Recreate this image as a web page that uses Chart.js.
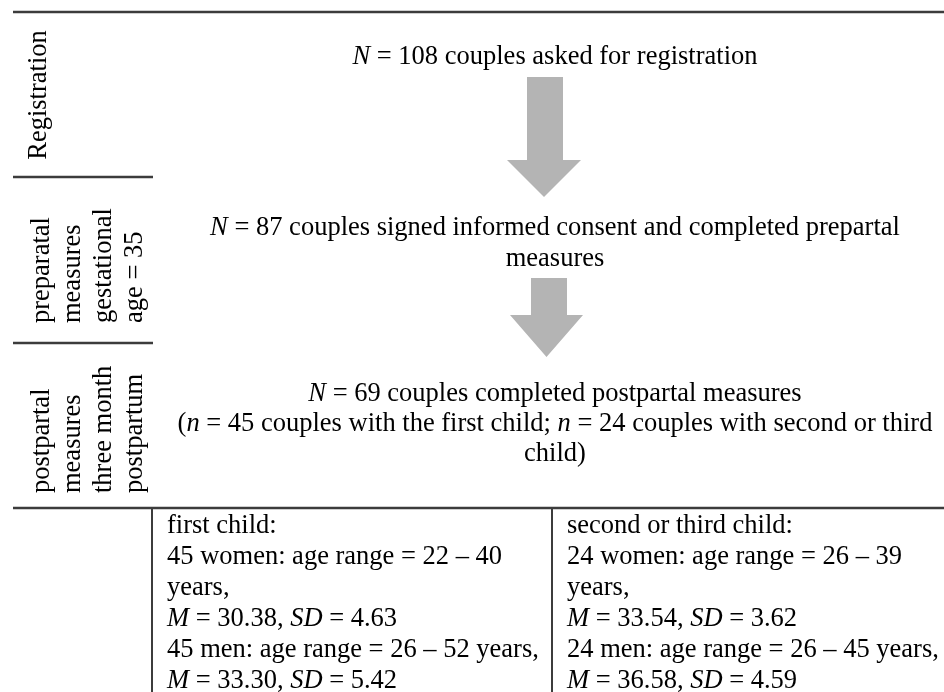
<!DOCTYPE html>
<html>
<head>
<meta charset="utf-8">
<script src="https://cdn.jsdelivr.net/npm/chart.js@4.4.1/dist/chart.umd.min.js"></script>
<style>
  html, body { margin: 0; padding: 0; background: #fff; }
  canvas { display: block; }
</style>
</head>
<body>
<canvas id="flowChart" width="944" height="692"></canvas>
<script>
// Study flow data
const stageNames = [
    ['Registration'],
    ['preparatal', 'measures', 'gestational', 'age = 35'],
    ['postpartal', 'measures', 'three month', 'postpartum']
];
const stageCounts = [108, 87, 69];
const groupNames = ['first child', 'second or third child'];
const groupCouples = [45, 24];
const womenAge = [[22, 40], [26, 39]];
const womenM = [30.38, 33.54];
const womenSD = [4.63, 3.62];
const menAge = [[26, 52], [26, 45]];
const menM = [33.30, 36.58];
const menSD = [5.42, 4.59];

// Texts built from the data (*...* = italic)
const stageTexts = [
    [`*N* = ${stageCounts[0]} couples asked for registration`],
    [`*N* = ${stageCounts[1]} couples signed informed consent and completed prepartal`, 'measures'],
    [`*N* = ${stageCounts[2]} couples completed postpartal measures`,
     `(*n* = ${groupCouples[0]} couples with the first child; *n* = ${groupCouples[1]} couples with second or third`,
     'child)']
];
const groupTexts = groupNames.map((name, i) => [
    `${name}:`,
    `${groupCouples[i]} women: age range = ${womenAge[i][0]} – ${womenAge[i][1]}`,
    'years,',
    `*M* = ${womenM[i].toFixed(2)}, *SD* = ${womenSD[i].toFixed(2)}`,
    `${groupCouples[i]} men: age range = ${menAge[i][0]} – ${menAge[i][1]} years,`,
    `*M* = ${menM[i].toFixed(2)}, *SD* = ${menSD[i].toFixed(2)}`
]);

// Layout (page units = pixels of the 944x692 frame, text y = baseline)
const layout = {
    fontSize: 26.5,
    ruleColor: '#3c3c3c',
    arrowColor: '#b4b4b4',
    topRule: 12,
    stageRules: [177, 343],
    tableTop: 508,
    leftCol: 153,
    tableCols: [152, 552],
    labelStart: [null, 323, 493],
    labelCols: 49,
    labelStep: 31,
    registrationCenter: [46, 95],
    textCenter: 555,
    stageLines: [[64], [235, 266], [401, 431, 461]],
    arrows: [
        { top: 77, neck: 160, tip: 197, shaft: [527, 563], head: [507, 581] },
        { top: 278, neck: 315, tip: 357, shaft: [531, 567], head: [510, 583] }
    ],
    groupX: [167, 567],
    groupLine0: 533,
    groupStep: 31
};

const FONT = '"Liberation Serif", "DejaVu Serif", serif';
function font(italic) {
    return (italic ? 'italic ' : '') + layout.fontSize + 'px ' + FONT;
}

function richWidth(ctx, str) {
    let w = 0;
    str.split('*').forEach((part, i) => {
        ctx.font = font(i % 2 === 1);
        w += ctx.measureText(part).width;
    });
    return w;
}

function drawRich(ctx, str, x, y, align) {
    const w = richWidth(ctx, str);
    let cx = align === 'center' ? x - w / 2 : x;
    str.split('*').forEach((part, i) => {
        ctx.font = font(i % 2 === 1);
        ctx.fillText(part, cx, y);
        cx += ctx.measureText(part).width;
    });
}

const flowPlugin = {
    id: 'flowDiagram',
    afterDraw(chart) {
        const ctx = chart.ctx;
        const X = v => chart.scales.x.getPixelForValue(v);
        const Y = v => chart.scales.y.getPixelForValue(v);

        ctx.save();
        // rules
        ctx.strokeStyle = layout.ruleColor;
        ctx.lineWidth = 2.5;
        const hline = (x0, x1, y) => { ctx.beginPath(); ctx.moveTo(X(x0), Y(y)); ctx.lineTo(X(x1), Y(y)); ctx.stroke(); };
        const vline = (x, y0, y1) => { ctx.beginPath(); ctx.moveTo(X(x), Y(y0)); ctx.lineTo(X(x), Y(y1)); ctx.stroke(); };
        hline(13, 944, layout.topRule);
        layout.stageRules.forEach(y => hline(13, layout.leftCol, y));
        hline(13, 944, layout.tableTop);
        ctx.lineWidth = 2;
        layout.tableCols.forEach(x => vline(x, layout.tableTop, 692));

        // arrows
        ctx.fillStyle = layout.arrowColor;
        layout.arrows.forEach(a => {
            ctx.beginPath();
            ctx.moveTo(X(a.shaft[0]), Y(a.top));
            ctx.lineTo(X(a.shaft[1]), Y(a.top));
            ctx.lineTo(X(a.shaft[1]), Y(a.neck));
            ctx.lineTo(X(a.head[1]), Y(a.neck));
            ctx.lineTo(X((a.head[0] + a.head[1]) / 2), Y(a.tip));
            ctx.lineTo(X(a.head[0]), Y(a.neck));
            ctx.lineTo(X(a.shaft[0]), Y(a.neck));
            ctx.closePath();
            ctx.fill();
        });

        ctx.fillStyle = '#000';
        ctx.textBaseline = 'alphabetic';

        // stage labels (rotated)
        stageNames.forEach((lines, s) => {
            ctx.save();
            ctx.font = font(false);
            if (s === 0) {
                ctx.translate(X(layout.registrationCenter[0]), Y(layout.registrationCenter[1]));
                ctx.rotate(-Math.PI / 2);
                ctx.textAlign = 'center';
                ctx.fillText(lines[0], 0, 0);
            } else {
                ctx.translate(0, Y(layout.labelStart[s]));
                ctx.rotate(-Math.PI / 2);
                ctx.textAlign = 'left';
                lines.forEach((t, i) => ctx.fillText(t, 0, X(layout.labelCols + i * layout.labelStep)));
            }
            ctx.restore();
        });

        // stage texts
        ctx.textAlign = 'left';
        stageTexts.forEach((lines, s) => {
            lines.forEach((t, i) => drawRich(ctx, t, X(layout.textCenter), Y(layout.stageLines[s][i]), 'center'));
        });

        // group table
        groupTexts.forEach((lines, g) => {
            lines.forEach((t, i) => drawRich(ctx, t, X(layout.groupX[g]), Y(layout.groupLine0 + i * layout.groupStep), 'left'));
        });
        ctx.restore();
    }
};

function buildChart() {
    new Chart(document.getElementById('flowChart'), {
        type: 'scatter',
        data: { datasets: [] },
        options: {
            responsive: false,
            animation: false,
            layout: { padding: 0 },
            plugins: { legend: { display: false }, tooltip: { enabled: false } },
            scales: {
                x: { type: 'linear', min: 0, max: 944, display: false },
                y: { type: 'linear', min: 0, max: 692, reverse: true, display: false }
            }
        },
        plugins: [flowPlugin]
    });
}

Promise.all([
    document.fonts.load('26.5px "Liberation Serif"'),
    document.fonts.load('italic 26.5px "Liberation Serif"')
]).then(buildChart, buildChart);
</script>
</body>
</html>
